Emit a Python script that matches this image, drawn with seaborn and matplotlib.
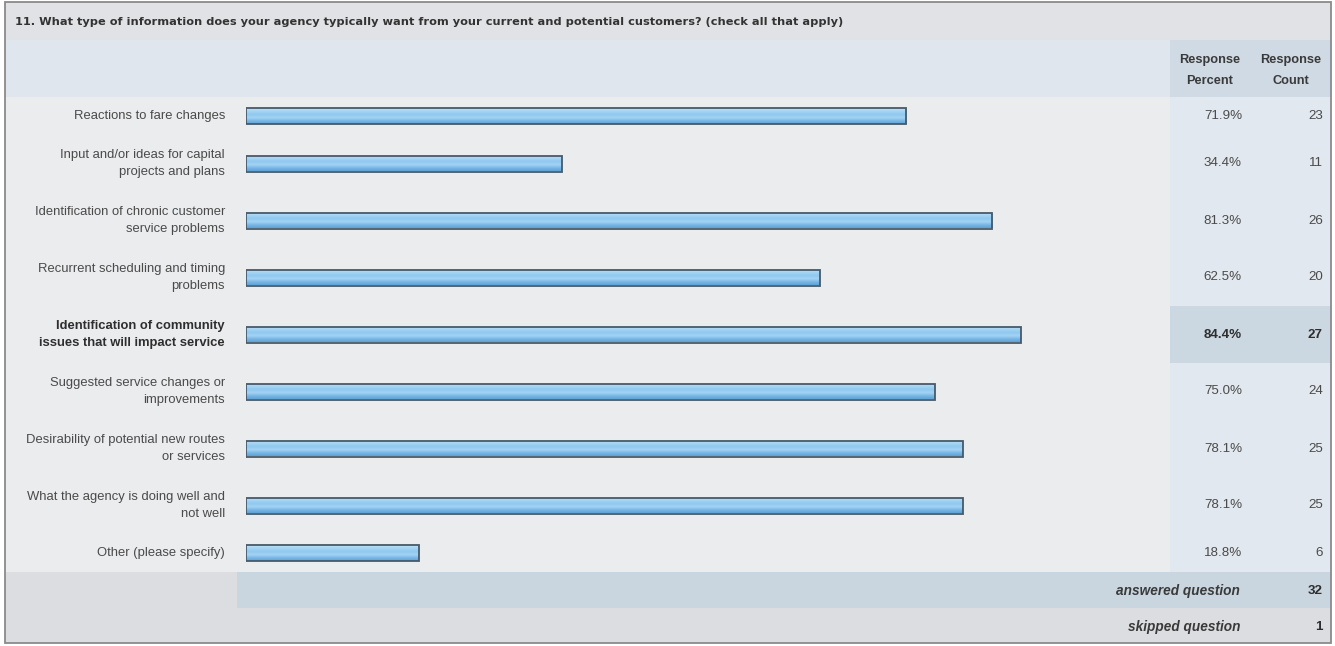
import numpy as np
import matplotlib
matplotlib.use("Agg")
import matplotlib.pyplot as plt
from matplotlib.patches import Rectangle
from matplotlib.colors import LinearSegmentedColormap
import pandas as pd
import seaborn as sns

# ---- survey data -------------------------------------------------------
question = ("11. What type of information does your agency typically want from your "
            "current and potential customers? (check all that apply)")
answer_labels = [
    "Reactions to fare changes",
    "Input and/or ideas for capital\nprojects and plans",
    "Identification of chronic customer\nservice problems",
    "Recurrent scheduling and timing\nproblems",
    "Identification of community\nissues that will impact service",
    "Suggested service changes or\nimprovements",
    "Desirability of potential new routes\nor services",
    "What the agency is doing well and\nnot well",
    "Other (please specify)",
]
response_percent = [71.9, 34.4, 81.3, 62.5, 84.4, 75.0, 78.1, 78.1, 18.8]
response_count = [23, 11, 26, 20, 27, 24, 25, 25, 6]
answered_question = 32
skipped_question = 1
highlight_row = 4
column_headers = ["Response\nPercent", "Response\nCount"]

# ---- page geometry (pixels) -------------------------------------------
W, H = 1335, 646
LEFT, RIGHT, TOP, BOTTOM = 5, 1331, 2, 643
TITLE_BOTTOM = 40
HEADER_BOTTOM = 97
COL_PCT, COL_CNT = 1170, 1250
BAR_X0, BAR_X100 = 246, 1164
SUMMARY_X = 237
LABEL_RIGHT = 225

row_heights = [38 if "\n" not in s else 57 for s in answer_labels]
row_edges = HEADER_BOTTOM + np.concatenate([[0], np.cumsum(row_heights)])
row_centers = (row_edges[:-1] + row_edges[1:]) / 2
ROWS_BOTTOM = row_edges[-1]
ANSWERED_BOTTOM = ROWS_BOTTOM + 36

FONT = "Liberation Sans"
TXT = "#4a4a4a"
DARK = "#2e2e2e"
FS = 9.35

sns.set_theme(style="white")
plt.rcParams["font.family"] = [FONT, "DejaVu Sans"]

fig = plt.figure(figsize=(W / 100, H / 100), dpi=100)
fig.patch.set_facecolor("white")

bg = fig.add_axes([0, 0, 1, 1])
bg.set_xlim(0, W)
bg.set_ylim(H, 0)
bg.axis("off")


def box(x0, y0, x1, y1, color, **kw):
    bg.add_patch(Rectangle((x0, y0), x1 - x0, y1 - y0, facecolor=color,
                           edgecolor="none", **kw))


# background bands
box(LEFT, TOP, RIGHT, TITLE_BOTTOM, "#e1e2e5")
box(LEFT, TITLE_BOTTOM, RIGHT, HEADER_BOTTOM, "#dfe6ee")
box(COL_PCT, TITLE_BOTTOM, RIGHT, HEADER_BOTTOM, "#cfdae4")
box(LEFT, HEADER_BOTTOM, COL_PCT, ROWS_BOTTOM, "#ebecee")
box(COL_PCT, HEADER_BOTTOM, RIGHT, ROWS_BOTTOM, "#e2e8ef")
box(COL_PCT, row_edges[highlight_row], RIGHT, row_edges[highlight_row + 1], "#cbd7e1")
box(LEFT, ROWS_BOTTOM, SUMMARY_X, ANSWERED_BOTTOM, "#dcdde0")
box(SUMMARY_X, ROWS_BOTTOM, RIGHT, ANSWERED_BOTTOM, "#c9d6e0")
box(LEFT, ANSWERED_BOTTOM, RIGHT, BOTTOM, "#dcdde0")
bg.add_patch(Rectangle((LEFT, TOP), RIGHT - LEFT, BOTTOM - TOP, facecolor="none",
                       edgecolor="#8a8a8a", linewidth=1.3))

# title and column headers
bg.text(15, (TOP + TITLE_BOTTOM) / 2 + 1, question, ha="left", va="center",
        fontsize=8.2, fontweight="bold", color="#333333",
        family=["DejaVu Sans"])
for cx, head in zip([(COL_PCT + COL_CNT) / 2, (COL_CNT + RIGHT) / 2], column_headers):
    bg.text(cx, (TITLE_BOTTOM + HEADER_BOTTOM) / 2 + 2, head, ha="center", va="center",
            fontsize=9.2, fontweight="bold", color="#3a3a3a", linespacing=1.95)

# row labels and values
for i, (lab, pct, cnt, cy) in enumerate(zip(answer_labels, response_percent,
                                              response_count, row_centers)):
    hl = i == highlight_row
    weight = "bold" if hl else "normal"
    color = DARK if hl else TXT
    bg.text(LABEL_RIGHT, cy, lab, ha="right", va="center", fontsize=FS,
            fontweight=weight, color=color, linespacing=1.45)
    bg.text(1242, cy, f"{pct:.1f}%", ha="right", va="center", fontsize=9.6,
            fontweight=weight, color=color)
    bg.text(1323, cy, f"{cnt}", ha="right", va="center", fontsize=9.6,
            fontweight=weight, color=color)

# summary lines
ans_y = (ROWS_BOTTOM + ANSWERED_BOTTOM) / 2 + 1
skp_y = (ANSWERED_BOTTOM + BOTTOM) / 2 + 2
for y, name, val in [(ans_y, "answered question", answered_question),
                     (skp_y, "skipped question", skipped_question)]:
    bg.text(1240, y, name, ha="right", va="center", fontsize=9.8,
            fontstyle="italic", fontweight="bold", color="#3a3a3a")
    bg.text(1323, y, f"{val}", ha="right", va="center", fontsize=9.6,
            fontweight="bold", color="#2e2e2e")

# ---- bars ---------------------------------------------------------------
ax = fig.add_axes([BAR_X0 / W, 1 - ROWS_BOTTOM / H, (BAR_X100 - BAR_X0) / W,
                   (ROWS_BOTTOM - HEADER_BOTTOM) / H])
ax.patch.set_alpha(0)

df = pd.DataFrame({"percent": response_percent, "row": row_centers})
bar_px = 16
spacing = np.min(np.diff(row_centers))
sns.barplot(data=df, x="percent", y="row", orient="y", native_scale=True,
            width=bar_px / spacing, errorbar=None, color="#7dbbe7",
            edgecolor="#46596a", linewidth=1.3, ax=ax, zorder=3)

grad = LinearSegmentedColormap.from_list(
    "bar", ["#bfe1f7", "#a6d4f3", "#8fc8ef", "#a4d3f3", "#7ab8e6", "#5ea2d7"])
shade = np.linspace(0, 1, 64).reshape(-1, 1)
for bar in ax.patches:
    x0, y0 = bar.get_x(), bar.get_y()
    w, h = bar.get_width(), bar.get_height()
    y_top, y_bot = min(y0, y0 + h), max(y0, y0 + h)
    im = ax.imshow(shade, cmap=grad, aspect="auto", origin="upper",
                   extent=(x0, x0 + w, y_bot, y_top), zorder=2,
                   interpolation="bilinear")
    im.set_clip_path(bar)
    bar.set_facecolor("none")

ax.set_xlim(0, 100)
ax.set_ylim(ROWS_BOTTOM, HEADER_BOTTOM)
ax.axis("off")

fig.savefig("out.png", dpi=100, facecolor="white")
